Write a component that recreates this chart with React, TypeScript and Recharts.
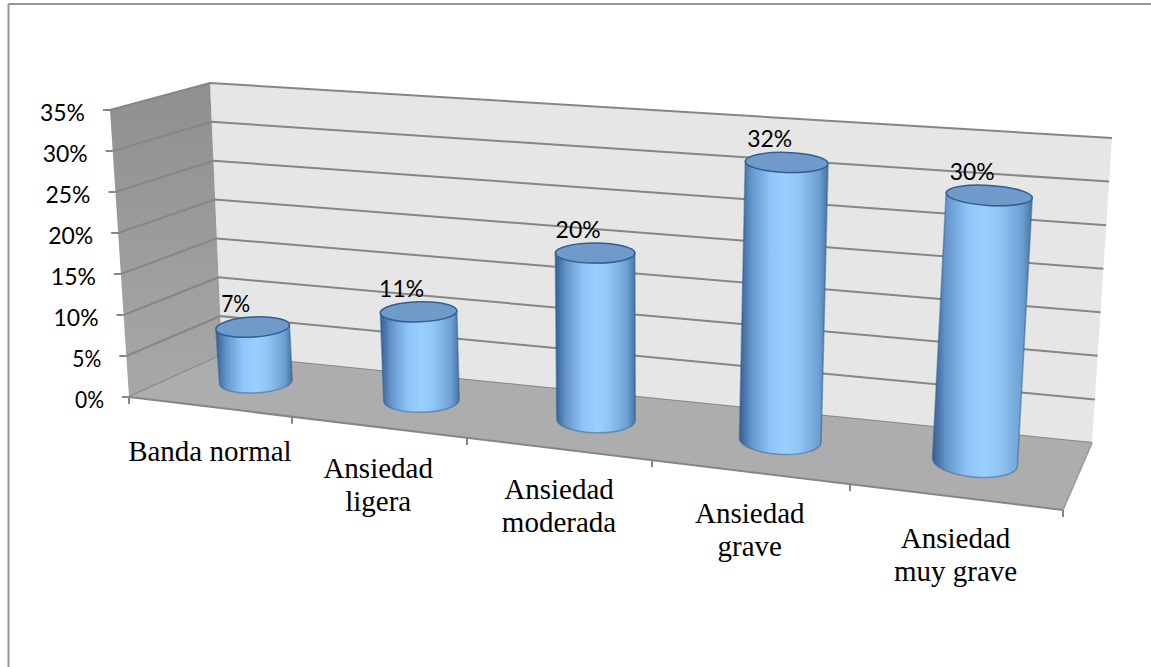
import React from "react";
import { BarChart, Bar, XAxis, YAxis, LabelList } from "recharts";

// --- Data ---
const categories = [
  "Banda normal",
  "Ansiedad\nligera",
  "Ansiedad\nmoderada",
  "Ansiedad\ngrave",
  "Ansiedad\nmuy grave",
];
const percents = [7, 11, 20, 32, 30];
const yTicks = [0, 5, 10, 15, 20, 25, 30, 35];

const chartData = categories.map((name, i) => ({ name, value: percents[i] }));

// --- Layout of the fake 3D box ---
type P = [number, number];
const PLOT = { left: 129, top: 110, width: 934, height: 287 };
const FRONT_LEFT_BOTTOM: P = [129, 397];
const FRONT_LEFT_TOP: P = [110, 110];
const BACK_LEFT_BOTTOM: P = [222, 355];
const BACK_LEFT_TOP: P = [210, 83];
const BACK_RIGHT_BOTTOM: P = [1092, 443];
const BACK_RIGHT_TOP: P = [1112, 138];
const FRONT_RIGHT_BOTTOM: P = [1063, 510];
const FLOOR_TICK_X = [129, 292, 467, 652, 850, 1063];
// where each category label sits relative to its tick (x shift, first baseline shift)
const LABEL_SHIFT: P[] = [
  [-12.5, 64],
  [-31, 81],
  [-37, 102],
  [-33, 126],
  [-14, 151],
];

const lerp = (a: P, b: P, t: number): P => [a[0] + (b[0] - a[0]) * t, a[1] + (b[1] - a[1]) * t];
const pts = (list: P[]) => list.map((p) => p.join(",")).join(" ");

// homography from the flat plot rectangle to the plane the cylinders stand in
function makeProjection(p0: P, p1: P, p2: P, p3: P) {
  const dx1 = p1[0] - p2[0];
  const dx2 = p3[0] - p2[0];
  const dy1 = p1[1] - p2[1];
  const dy2 = p3[1] - p2[1];
  const sx = p0[0] - p1[0] + p2[0] - p3[0];
  const sy = p0[1] - p1[1] + p2[1] - p3[1];
  const den = dx1 * dy2 - dx2 * dy1;
  const g = (sx * dy2 - dx2 * sy) / den;
  const h = (dx1 * sy - sx * dy1) / den;
  const a = p1[0] - p0[0] + g * p1[0];
  const b = p3[0] - p0[0] + h * p3[0];
  const d = p1[1] - p0[1] + g * p1[1];
  const e = p3[1] - p0[1] + h * p3[1];
  return (x: number, y: number): P => {
    const u = (x - PLOT.left) / PLOT.width;
    const v = (PLOT.top + PLOT.height - y) / PLOT.height;
    const w = g * u + h * v + 1;
    return [(a * u + b * v + p0[0]) / w, (d * u + e * v + p0[1]) / w];
  };
}
const project = makeProjection([176.5, 373], [1077, 473.5], [1099, 156], [157, 93]);

// --- Custom renderers ---
function Cylinder(props: any) {
  const { x, y, width, height } = props;
  const cx = x + width / 2;
  const s = (cx - PLOT.left) / PLOT.width;
  const degTop = -4.2 + 8.5 * s;
  const degBottom = -4.5 + 11 * s;

  const top = project(cx, y);
  const bottom = project(cx, y + height);
  const narrow = 1.01 - 0.07 * s;
  const rxBottom =
    ((project(cx + width / 2, y + height)[0] - project(cx - width / 2, y + height)[0]) / 2) * narrow;
  const rxTop = rxBottom + 0.5;
  const ryTop = 10;
  const ryBottom = 10.5 + 5 * s;

  const edge = (c: P, r: number, sign: number, deg: number): P => [
    c[0] + sign * r * Math.cos((deg * Math.PI) / 180),
    c[1] + sign * r * Math.sin((deg * Math.PI) / 180),
  ];
  const tl = edge(top, rxTop, -1, degTop);
  const tr = edge(top, rxTop, 1, degTop);
  const bl = edge(bottom, rxBottom, -1, degBottom);
  const br = edge(bottom, rxBottom, 1, degBottom);

  const body =
    `M${tl[0]},${tl[1]} L${bl[0]},${bl[1]} ` +
    `A${rxBottom},${ryBottom} ${degBottom} 0 0 ${br[0]},${br[1]} ` +
    `L${tr[0]},${tr[1]} ` +
    `A${rxTop},${ryTop} ${degTop} 0 1 ${tl[0]},${tl[1]} Z`;

  return (
    <g>
      <path d={body} fill="url(#cylinderSide)" stroke="#2f5f94" strokeWidth={1.5} strokeOpacity={0.5} />
      <ellipse
        cx={top[0]}
        cy={top[1]}
        rx={rxTop}
        ry={ryTop}
        transform={`rotate(${degTop} ${top[0]} ${top[1]})`}
        fill="#6f9ac9"
        stroke="#2f5f94"
        strokeWidth={1.5}
      />
    </g>
  );
}

// the reference face is narrower than Lato, so squeeze the text to its width
const percentTextWidth = (value: number) => (value < 10 ? 29 : 45);

function PercentLabel(props: any) {
  const { x, y, width, value } = props;
  const top = project(x + width / 2, y);
  return (
    <text
      x={top[0] - 17 - percentTextWidth(value) / 2}
      y={top[1] - 15}
      textLength={percentTextWidth(value)}
      lengthAdjust="spacingAndGlyphs"
      fontFamily="Lato, 'Open Sans', sans-serif"
      fontSize={23}
      fill="#000"
    >
      {value}%
    </text>
  );
}

function YTick(props: any) {
  const { y, payload } = props;
  const wallX = lerp(FRONT_LEFT_BOTTOM, FRONT_LEFT_TOP, payload.value / 35)[0];
  return (
    <g>
      <line x1={wallX - 7} y1={y} x2={wallX} y2={y} stroke="#868686" strokeWidth={2} />
      <text
        x={wallX - 25 - percentTextWidth(payload.value)}
        y={y + 11}
        textLength={percentTextWidth(payload.value)}
        lengthAdjust="spacingAndGlyphs"
        fontFamily="Lato, 'Open Sans', sans-serif"
        fontSize={23}
        fill="#000"
      >
        {payload.value}%
      </text>
    </g>
  );
}

function CategoryTick(props: any) {
  const { x, payload, index } = props;
  const [dx, dy] = LABEL_SHIFT[index];
  const lines = String(payload.value).split("\n");
  return (
    <text
      x={x + dx}
      y={PLOT.top + PLOT.height + dy}
      textAnchor="middle"
      fontFamily="'Liberation Serif', serif"
      fontSize={29}
      fill="#000"
    >
      {lines.map((line, i) => (
        <tspan key={line} x={x + dx} dy={i === 0 ? 0 : 33}>
          {line}
        </tspan>
      ))}
    </text>
  );
}

// --- Chart ---
export default function App() {
  const leftWall = [FRONT_LEFT_TOP, BACK_LEFT_TOP, BACK_LEFT_BOTTOM, FRONT_LEFT_BOTTOM];
  const backWall = [BACK_LEFT_TOP, BACK_RIGHT_TOP, BACK_RIGHT_BOTTOM, BACK_LEFT_BOTTOM];
  const floor = [FRONT_LEFT_BOTTOM, BACK_LEFT_BOTTOM, BACK_RIGHT_BOTTOM, FRONT_RIGHT_BOTTOM];

  return (
    <div style={{ position: "absolute", left: 0, top: 0, width: 1151, height: 667, background: "#fff" }}>
      <BarChart
        width={1151}
        height={667}
        data={chartData}
        margin={{ top: PLOT.top, right: 1151 - PLOT.left - PLOT.width, bottom: 240, left: PLOT.left - 60 }}
        barSize={84}
      >
        <defs>
          <linearGradient id="cylinderSide" x1="0" y1="0" x2="1" y2="0">
            <stop offset="0%" stopColor="#355f92" />
            <stop offset="14%" stopColor="#6596cb" />
            <stop offset="35%" stopColor="#8ec4f7" />
            <stop offset="52%" stopColor="#9ad0ff" />
            <stop offset="68%" stopColor="#8fc5f5" />
            <stop offset="90%" stopColor="#6d9fd2" />
            <stop offset="100%" stopColor="#45749f" />
          </linearGradient>
          <linearGradient id="leftWallFill" x1="0" y1="0" x2="0" y2="1">
            <stop offset="0%" stopColor="#8f8f8f" />
            <stop offset="100%" stopColor="#a8a8a8" />
          </linearGradient>
        </defs>

        {/* frame */}
        <line x1={8.5} y1={4} x2={1151} y2={4} stroke="#969696" strokeWidth={2} />
        <line x1={8.5} y1={4} x2={8.5} y2={667} stroke="#969696" strokeWidth={2} />

        {/* walls and floor */}
        <polygon points={pts(backWall)} fill="#e6e6e6" />
        <polygon points={pts(leftWall)} fill="url(#leftWallFill)" />
        {yTicks.map((v) => {
          const t = v / 35;
          const a = lerp(FRONT_LEFT_BOTTOM, FRONT_LEFT_TOP, t);
          const b = lerp(BACK_LEFT_BOTTOM, BACK_LEFT_TOP, t);
          const c = lerp(BACK_RIGHT_BOTTOM, BACK_RIGHT_TOP, t);
          return <polyline key={v} points={pts([a, b, c])} fill="none" stroke="#868686" strokeWidth={2} />;
        })}
        <polygon points={pts(floor)} fill="#adadad" />
        <line x1={FRONT_LEFT_BOTTOM[0]} y1={FRONT_LEFT_BOTTOM[1]} x2={FRONT_RIGHT_BOTTOM[0]} y2={FRONT_RIGHT_BOTTOM[1]} stroke="#868686" strokeWidth={2} />
        <line x1={FRONT_RIGHT_BOTTOM[0]} y1={FRONT_RIGHT_BOTTOM[1]} x2={BACK_RIGHT_BOTTOM[0]} y2={BACK_RIGHT_BOTTOM[1]} stroke="#9a9a9a" strokeWidth={1.5} />
        {FLOOR_TICK_X.map((x) => {
          const t = (x - FRONT_LEFT_BOTTOM[0]) / (FRONT_RIGHT_BOTTOM[0] - FRONT_LEFT_BOTTOM[0]);
          const y = lerp(FRONT_LEFT_BOTTOM, FRONT_RIGHT_BOTTOM, t)[1];
          return <line key={x} x1={x} y1={y} x2={x} y2={y + 7} stroke="#868686" strokeWidth={2} />;
        })}

        <XAxis dataKey="name" axisLine={false} tickLine={false} height={30} interval={0} tick={<CategoryTick />} />
        <YAxis domain={[0, 35]} ticks={yTicks} width={60} axisLine={false} tickLine={false} tick={<YTick />} />
        <Bar dataKey="value" shape={<Cylinder />} isAnimationActive={false}>
          <LabelList dataKey="value" content={<PercentLabel />} />
        </Bar>
      </BarChart>
    </div>
  );
}
